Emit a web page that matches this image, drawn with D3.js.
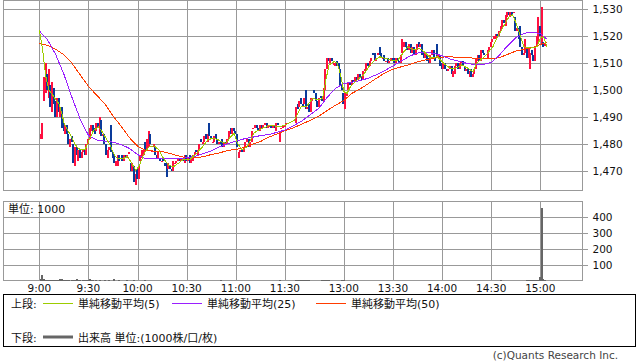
<!DOCTYPE html>
<html><head><meta charset="utf-8">
<script src="https://cdn.jsdelivr.net/npm/d3@7"></script>
<style>body{margin:0;background:#fff;} svg{display:block;}</style>
</head><body>
<svg id="c" width="638" height="362"></svg>
<script>
// ---------- DATA ----------
const timeLabels = ["9:00","9:30","10:00","10:30","11:00","11:30","13:00","13:30","14:00","14:30","15:00"];
const timeSlots  = [0,30,60,90,120,150,186,216,246,276,306];
const priceTicks = [1470,1480,1490,1500,1510,1520,1530];
const volTicks   = [100,200,300,400];

// morning bars 9:00-11:30 (slot = minute index)
const amOpen = [
 1482,1482,1496,1499,1506,1497,1502,1492,1501,1496,
 1490,1497,1490,1494,1488,1484,1487,1484,1479,1483,
 1480,1472,1479,1474,1478,1475,1477,1478,1476,1480,
 1482,1485,1487,1486,1485,1488,1484,1489,1483,1484,
 1480,1475,1478,1487,1477,1476,1472,1472,1476,1475,
 1476,1474,1476,1475,1477,1473,1470,1472,1465,1471,
 1467,1474,1475,1476,1481,1478,1479,1484,1477,1479,
 1479,1476,1475,1475,1474,1475,1473,1473,1471,1472,
 1471,1470,1473,1473,1474,1475,1474,1475,1473,1476,
 1474,1476,1473,1474,1476,1478,1476,1478,1482,1480,
 1481,1484,1481,1488,1483,1481,1481,1484,1482,1480,
 1481,1482,1479,1481,1480,1482,1486,1484,1486,1485,
 1484,1475,1477,1478,1477,1479,1481,1482,1479,1481,
 1486,1486,1487,1486,1485,1487,1486,1487,1488,1486,
 1487,1487,1486,1487,1485,1488,1481,1486,1486,1487,1487];
const amClose = [
 1484,1488,1505,1510,1500,1508,1494,1503,1495,1490,
 1497,1492,1494,1486,1485,1487,1484,1480,1482,1481,
 1473,1479,1476,1478,1475,1477,1478,1476,1480,1482,
 1486,1487,1485,1484,1488,1486,1490,1483,1484,1480,
 1476,1478,1479,1477,1475,1473,1474,1476,1474,1475,
 1474,1476,1475,1476,1477,1470,1473,1466,1469,1467,
 1472,1476,1478,1478,1478,1482,1485,1480,1478,1480,
 1476,1475,1477,1474,1474,1474,1472,1468,1473,1471,
 1470,1474,1473,1474,1475,1474,1475,1474,1476,1474,
 1475,1473,1475,1476,1477,1477,1478,1480,1481,1481,
 1483,1482,1484,1483,1482,1481,1483,1482,1480,1481,
 1480,1479,1481,1480,1482,1485,1484,1486,1485,1484,
 1479,1477,1478,1477,1479,1481,1482,1479,1481,1485,
 1486,1487,1486,1485,1487,1486,1487,1488,1486,1487,
 1487,1486,1487,1486,1488,1487,1485,1486,1487,1487,1488];
const amVol = [
 12,35,14,6,4,3,2,4,2,3,
 2,8,9,10,7,3,2,2,1,2,
 2,8,9,7,2,1,2,2,8,7,
 9,6,2,1,2,1,2,1,1,2,
 1,1,2,1,1,14,1,1,2,1,
 1,1,1,2,1,1,1,6,1,1,
 1,1,1,1,2,1,1,1,1,1,
 1,1,1,1,1,1,1,1,1,1,
 1,1,1,1,1,1,1,1,1,1,
 1,1,1,1,1,1,1,1,1,1,
 1,1,1,1,1,1,1,1,1,1,
 5,1,1,1,1,1,1,1,1,1,
 1,1,1,1,1,1,1,1,1,1,
 1,1,1,1,1,1,1,1,1,1,
 1,1,1,1,1,1,3,1,1,1,1];

// afternoon bars from 12:30 (slot 156 = 12:30)
const pmOpen = [
 1488,1495,1494,1497,1495,1495,1500,1493,1495,1492,
 1496,1500,1499,1496,1494,1498,1497,1496,1500,1508,
 1512,1510,1512,1510,1509,1511,1510,1508,1502,1499,
 1493,1498,1500,1503,1502,1504,1503,1505,1504,1506,
 1505,1504,1507,1508,1510,1509,1511,1514,1514,1511,
 1513,1516,1514,1512,1513,1511,1512,1510,1511,1512,
 1512,1510,1512,1511,1510,1514,1516,1518,1516,1515,
 1517,1514,1516,1513,1515,1518,1516,1517,1514,1512,
 1513,1512,1510,1513,1515,1512,1517,1512,1513,1510,
 1508,1510,1508,1507,1508,1509,1505,1506,1509,1510,
 1508,1510,1511,1509,1507,1508,1505,1508,1505,1506,
 1508,1511,1513,1511,1515,1514,1512,1512,1515,1516,
 1518,1519,1519,1521,1520,1522,1523,1526,1524,1527,
 1529,1527,1529,1529,1527,1522,1523,1524,1516,1513,
 1514,1516,1512,1508,1515,1513,1511,1516,1518,1524,
 1517,1518,1517];
const pmClose = [
 1494,1493,1496,1495,1494,1497,1493,1494,1492,1497,
 1497,1499,1496,1494,1497,1497,1496,1501,1508,1512,
 1511,1512,1511,1510,1510,1509,1508,1502,1500,1495,
 1499,1499,1503,1502,1504,1503,1505,1504,1506,1505,
 1504,1507,1508,1510,1509,1511,1512,1513,1511,1512,
 1514,1513,1512,1512,1511,1511,1510,1511,1512,1511,
 1510,1512,1511,1510,1513,1519,1518,1516,1515,1517,
 1514,1516,1513,1515,1517,1516,1517,1513,1512,1514,
 1511,1510,1513,1515,1512,1511,1512,1513,1509,1508,
 1510,1508,1507,1508,1509,1506,1507,1509,1510,1508,
 1510,1511,1509,1507,1508,1506,1507,1505,1506,1508,
 1512,1513,1511,1515,1514,1513,1512,1515,1516,1518,
 1519,1520,1521,1520,1522,1524,1526,1525,1528,1529,
 1528,1529,1528,1529,1522,1523,1519,1516,1513,1514,
 1519,1512,1516,1514,1513,1511,1516,1520,1527,1520,
 1531,1516,1517];
const pmVol = [
 6,7,5,6,7,5,6,4,2,1,
 1,1,1,1,1,1,8,8,7,8,
 2,1,1,1,1,1,1,1,7,7,
 1,1,1,1,1,1,1,1,1,1,
 1,1,1,1,1,1,1,1,1,1,
 1,1,1,1,1,1,1,1,1,1,
 1,1,1,1,1,1,1,1,1,1,
 1,1,1,1,1,1,1,1,1,1,
 1,1,1,1,1,1,1,1,1,1,
 1,1,1,1,1,1,1,1,1,1,
 1,1,1,1,1,1,1,1,1,1,
 1,1,1,1,1,1,1,1,1,1,
 1,1,1,1,1,5,1,1,1,1,
 1,1,1,1,1,1,1,1,1,1,
 1,6,6,5,6,6,5,6,6,25,
 460,10,3];
const pmStartSlot = 156;

// moving averages
const ma5Slots = [0,2,4,6,9,12,14,15,17,19,21,23,25,28,30,33,36,38,41,43,46,48,51,54,56,59,61,64,67,70,73,76,79,82,85,88,92,96,100,103,106,109,112,114,117,119,121,124,127,131,134,141,147,150,
 156,157,160,163,167,170,173,175,177,180,182,184,186,188,190,194,198,202,205,208,211,215,219,222,225,229,232,235,239,243,247,251,254,258,262,265,267,270,273,277,280,284,287,289,291,293,296,300,304,306,308,310];
const ma5 = [1522.3,1515,1505,1500,1497.5,1495,1491,1488,1485.5,1483.5,1481,1479,1478,1478,1481,1485,1486.5,1485,1482,1480,1475.8,1474.6,1474.6,1475.5,1473.4,1470.4,1472,1476.6,1479,1479.5,1477.9,1474.6,1472.3,1471.7,1473,1474.4,1474.4,1476.6,1479.3,1481.7,1482.2,1481.8,1480.6,1480.4,1482.9,1484.1,1480.4,1477.9,1479.1,1484.1,1485.3,1487.1,1486.5,1487.1,
 1489,1490.5,1493.9,1493.9,1497,1496.4,1497,1503.8,1509.4,1510.6,1510,1505.7,1499.5,1498.9,1501.3,1503.8,1505.7,1509.4,1511.2,1512.4,1511.9,1511.2,1511.2,1513.7,1516.1,1514.9,1515.6,1514.3,1511.9,1512.4,1510,1508.1,1508.1,1509.4,1508.1,1506.9,1510,1511.5,1513.1,1516.1,1519.9,1524.2,1527.3,1527.9,1525.3,1521.6,1516.1,1515.6,1516.1,1519.3,1519.9,1516.1];

const maSlots = [0,5,10,15,20,25,30,35,40,45,50,55,60,65,70,75,80,85,90,95,100,105,110,115,120,125,130,135,140,145,150,
 156,161,166,171,176,181,186,191,196,201,206,211,216,221,226,231,236,241,246,251,256,261,266,271,276,281,286,291,296,301,306,310];
const ma25 = [1522,1518.7,1513.3,1506,1497.3,1489.3,1483.3,1481.6,1481.2,1480.8,1479.9,1478.5,1476.2,1474.6,1474.6,1474.7,1474.7,1474.7,1475,1475.5,1476.5,1477.5,1479,1480.2,1481.2,1482,1482.6,1483.2,1483.6,1484.4,1485.3,
 1487.1,1488.9,1491.2,1493.5,1497.5,1500.8,1502.5,1503,1503.6,1504.5,1505.8,1507.3,1509,1510.8,1512.6,1513.8,1514,1513.7,1512.8,1511.6,1510.8,1510,1509.5,1509.5,1510.3,1513,1516.5,1519.5,1521.1,1521.5,1521,1519];
const ma50 = [1517.4,1516.6,1515.2,1513.2,1510,1505.7,1501.5,1498.2,1495,1490.5,1486.7,1482.5,1479.3,1477.8,1477.5,1477.3,1476.6,1475.7,1475,1475,1475.4,1476.2,1476.8,1477.7,1478.1,1478.8,1480,1481,1482.6,1483.8,1485,
 1486.3,1487.7,1489,1490.5,1492.6,1494.5,1496.2,1498.9,1500.5,1502.5,1504.5,1506.4,1507.8,1508.7,1509.5,1510.5,1511.3,1511.9,1512.3,1512.4,1512.2,1512.1,1511.9,1511.8,1511.6,1512.1,1513.3,1514.5,1515.2,1515.8,1516.9,1517.8];

// ---------- DRAW ----------
const svg = d3.select("#c");
const FONT = "'DejaVu Sans','Noto Sans CJK JP',sans-serif";
const GRID = "#999";
const x = d3.scaleLinear().domain([0,306]).range([39.3,540.3]);
const y = d3.scaleLinear().domain([1470,1530]).range([171.3,9.3]);
const v = d3.scaleLinear().domain([0,500]).range([280.8,201.4]);

const P = {l:3.5, r:582.5, t:0.5, b:190.5};
const V = {l:3.5, r:582.5, t:201.5, b:280.5};

const bars = [];
amOpen.forEach((o,i)=>bars.push({s:i,o:o,c:amClose[i],vol:amVol[i]}));
pmOpen.forEach((o,i)=>bars.push({s:pmStartSlot+i,o:o,c:pmClose[i],vol:pmVol[i]}));

svg.append("defs").append("clipPath").attr("id","pc").append("rect")
  .attr("x",P.l).attr("y",P.t).attr("width",P.r-P.l).attr("height",P.b-P.t);

// price grid
const gp = svg.append("g").attr("shape-rendering","crispEdges");
priceTicks.forEach(p=>{
  gp.append("line").attr("x1",P.l).attr("x2",P.r+5).attr("y1",Math.round(y(p))+0.5).attr("y2",Math.round(y(p))+0.5).attr("stroke",GRID);
});
timeSlots.forEach(s=>{
  gp.append("line").attr("x1",Math.round(x(s))+0.5).attr("x2",Math.round(x(s))+0.5).attr("y1",P.t).attr("y2",P.b).attr("stroke",GRID);
  gp.append("line").attr("x1",Math.round(x(s))+0.5).attr("x2",Math.round(x(s))+0.5).attr("y1",V.t).attr("y2",V.b).attr("stroke",GRID);
});
gp.append("rect").attr("x",P.l).attr("y",P.t).attr("width",P.r-P.l).attr("height",P.b-P.t).attr("fill","none").attr("stroke",GRID);

// volume grid
volTicks.forEach(t=>{
  gp.append("line").attr("x1",V.l).attr("x2",V.r+5).attr("y1",Math.round(v(t))+0.5).attr("y2",Math.round(v(t))+0.5).attr("stroke",GRID);
});
gp.append("rect").attr("x",V.l).attr("y",V.t).attr("width",V.r-V.l).attr("height",V.b-V.t).attr("fill","none").attr("stroke",GRID);

// candles
const gc = svg.append("g").attr("clip-path","url(#pc)").attr("shape-rendering","crispEdges");
gc.selectAll("rect").data(bars).join("rect")
  .attr("x",d=>x(d.s)+0.3)
  .attr("width",2)
  .attr("y",d=>y(Math.max(d.o,d.c)))
  .attr("height",d=>Math.max(1.2,Math.abs(y(d.o)-y(d.c))))
  .attr("fill",d=>d.c>=d.o?"#ff1040":"#0a3a9a");

// moving averages
const line = d3.line().x(d=>x(d[0])).y(d=>y(d[1]));
const gl = svg.append("g").attr("clip-path","url(#pc)").attr("fill","none").attr("shape-rendering","crispEdges");
gl.append("path").attr("d",line(maSlots.map((s,i)=>[s,ma50[i]]))).attr("stroke","#ff3c00").attr("stroke-width",1);
gl.append("path").attr("d",line(maSlots.map((s,i)=>[s,ma25[i]]))).attr("stroke","#9a1fff").attr("stroke-width",1);
gl.append("path").attr("d",line(ma5Slots.map((s,i)=>[s,ma5[i]]))).attr("stroke","#9ccc00").attr("stroke-width",1);

// volume bars
svg.append("g").attr("shape-rendering","crispEdges").selectAll("rect").data(bars).join("rect")
  .attr("x",d=>x(d.s)+0.4).attr("width",2)
  .attr("y",d=>v(d.vol)).attr("height",d=>v(0)-v(d.vol))
  .attr("fill","#666");

// axis labels
const txt = (xx,yy,t,anchor,size)=>svg.append("text").attr("x",xx).attr("y",yy).text(t)
  .attr("font-family",FONT).attr("font-size",size||10.5).attr("fill","#111").attr("text-anchor",anchor||"start");
priceTicks.forEach(p=>txt(592.5,y(p)+4,d3.format(",")(p)));
volTicks.forEach(t=>txt(592.5,v(t)+4,String(t)));
timeSlots.forEach((s,i)=>txt(x(s),292,timeLabels[i],"middle"));
txt(8,213,"単位: 1000","start",11);

// legend
const lg = svg.append("g");
lg.append("rect").attr("x",3.5).attr("y",294.5).attr("width",631.5).attr("height",51.5).attr("fill","none").attr("stroke","#000").attr("shape-rendering","crispEdges");
const legItems = [
  {x1:43,x2:73,c:"#9ccc00",t:"単純移動平均(5)"},
  {x1:172,x2:202,c:"#9a1fff",t:"単純移動平均(25)"},
  {x1:316,x2:346,c:"#ff3c00",t:"単純移動平均(50)"}];
txt(11,307.5,"上段:","start",11);
legItems.forEach(d=>{
  lg.append("line").attr("x1",d.x1).attr("x2",d.x2).attr("y1",303.5).attr("y2",303.5).attr("stroke",d.c).attr("shape-rendering","crispEdges");
  txt(d.x2+5,307.5,d.t,"start",11);
});
txt(11,341.5,"下段:","start",11);
lg.append("line").attr("x1",43).attr("x2",73).attr("y1",337).attr("y2",337).attr("stroke","#666").attr("stroke-width",3);
txt(78,341.5,"出来高 単位:(1000株/口/枚)","start",11);

txt(618,359,"(c)Quants Research Inc.","end",10.5).attr("fill","#444");
</script>
</body></html>
